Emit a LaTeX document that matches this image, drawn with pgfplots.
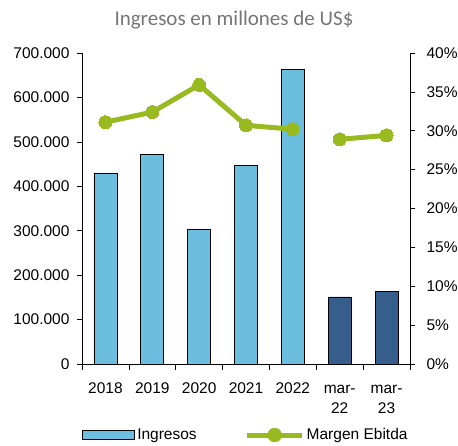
\documentclass[border=0pt]{standalone}
\usepackage{fontspec}
\setmainfont{Liberation Sans}
\newfontfamily\titlefont{Carlito}
\usepackage{pgfplots}
\pgfplotsset{compat=1.18}
\definecolor{lblue}{RGB}{108,190,223}
\definecolor{dblue}{RGB}{53,94,141}
\definecolor{lgreen}{RGB}{152,186,32}
\definecolor{tgray}{RGB}{118,118,118}
\begin{document}
\begin{tikzpicture}[x=1pt,y=1pt]
\path[use as bounding box] (-82,-81) rectangle (376,364);
\node[anchor=base, font=\titlefont\fontsize{21}{24}\selectfont, text=tgray] at (152,338) {Ingresos en millones de US\$};
\pgfplotsset{
  base/.style={
    at={(0pt,0pt)}, anchor=south west,
    scale only axis, width=328pt, height=311pt,
    xmin=-0.5, xmax=6.5,
    tick align=outside,
    tick style={black, line width=0.6pt},
    axis line style={black, line width=0.6pt},
    tick label style={font=\fontsize{15.5}{20.5}\selectfont},
    /pgf/number format/assume math mode=true,
  }
}
\begin{axis}[base,
  axis x line*=bottom, axis y line*=left,
  ymin=0, ymax=700000,
  ytick={0,100000,...,700000},
  scaled y ticks=false,
  yticklabel style={xshift=-4pt, /pgf/number format/.cd, fixed, 1000 sep={.}},
  major tick length=5pt,
  xtick={0,...,6},
  xticklabels={2018,2019,2020,2021,2022,{\vphantom{0}mar-\\22},{\vphantom{0}mar-\\23}},
  xticklabel style={align=center, yshift=-10pt},
  x tick style={draw=none},
  minor xtick={-0.5,0.5,...,6.5},
  minor x tick style={draw=black},
  minor tick length=6pt,
  legend style={at={(axis description cs:0.5,-0.2283)}, anchor=center, draw=none, fill=none,
    font=\fontsize{15.5}{18}\selectfont, legend columns=2,
    /tikz/every even column/.append style={column sep=46pt},
    inner sep=0pt},
  legend cell align=left,
]
\addplot[ybar, bar width=23pt, bar shift=0pt, fill=lblue, draw=black, line width=0.8pt,
  legend image code/.code={\draw[fill=lblue, draw=black, line width=0.8pt] (0pt,-4.5pt) rectangle (52pt,4.5pt);}]
  coordinates {(0,430000) (1,472500) (2,304000) (3,446000) (4,663000)};
\addlegendentry{Ingresos}
\addplot[ybar, bar width=23pt, bar shift=0pt, fill=dblue, draw=black, line width=0.8pt, forget plot]
  coordinates {(5,151000) (6,164000)};
\addlegendimage{legend image code/.code={\draw[lgreen, line width=5pt] (0pt,0pt) -- (55pt,0pt); \fill[lgreen] (27.5pt,0pt) circle (7pt);}}
\addlegendentry{Margen Ebitda}
\end{axis}
\begin{axis}[base,
  axis x line=none, axis y line*=right,
  ymin=0, ymax=40,
  ytick={0,5,...,40},
  major tick length=5pt,
  yticklabel={\pgfmathprintnumber{\tick}\%},
  yticklabel style={xshift=8pt},
]
\addplot[lgreen, line width=5pt, mark=*, mark size=6.5pt, mark options={fill=lgreen, draw=lgreen, line width=0pt}]
  coordinates {(0,31.1) (1,32.4) (2,35.9) (3,30.7) (4,30.2)};
\addplot[lgreen, line width=5pt, mark=*, mark size=6.5pt, mark options={fill=lgreen, draw=lgreen, line width=0pt}]
  coordinates {(5,28.9) (6,29.4)};
\end{axis}
\end{tikzpicture}
\end{document}
